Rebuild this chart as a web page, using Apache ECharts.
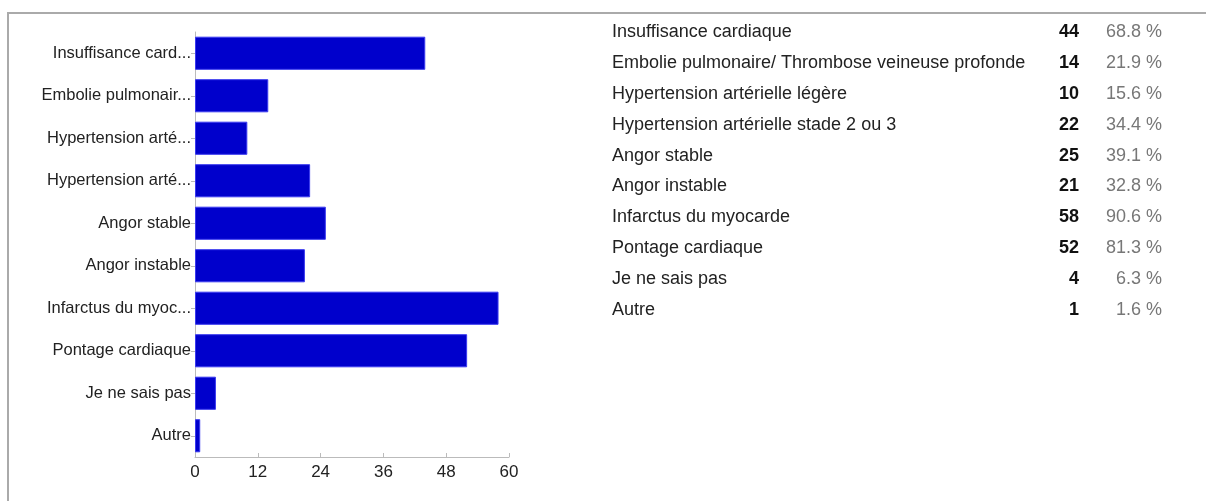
<!DOCTYPE html>
<html>
<head>
<meta charset="utf-8">
<script src="https://cdn.jsdelivr.net/npm/echarts@6/dist/echarts.min.js"></script>
<style>
  html, body { margin: 0; padding: 0; background: #fff; }
  #main { width: 1206px; height: 501px; position: relative; }
  .frame { position: absolute; left: 7px; top: 12px; right: 0; bottom: 0;
           border-top: 2px solid #aaa; border-left: 2px solid #aaa; pointer-events: none; }
</style>
</head>
<body>
<div id="main"></div>
<div class="frame"></div>
<script>
// réponses (ordre du questionnaire)
const categories = [
  'Insuffisance cardiaque',
  'Embolie pulmonaire/ Thrombose veineuse profonde',
  'Hypertension artérielle légère',
  'Hypertension artérielle stade 2 ou 3',
  'Angor stable',
  'Angor instable',
  'Infarctus du myocarde',
  'Pontage cardiaque',
  'Je ne sais pas',
  'Autre'
]
const counts = [44, 14, 10, 22, 25, 21, 58, 52, 4, 1]
const percents = ['68.8 %', '21.9 %', '15.6 %', '34.4 %', '39.1 %', '32.8 %', '90.6 %', '81.3 %', '6.3 %', '1.6 %']
const xTicks = [0, 12, 24, 36, 48, 60]

const font = '"Liberation Sans", Arial, sans-serif'

// tableau à droite
let graphics = []
categories.forEach((c, i) => {
  let y = 32 + i * 30.9
  graphics.push({
    type: 'text', x: 612, y: y,
    style: { text: c, fill: '#222', font: '18px ' + font, align: 'left', verticalAlign: 'middle' }
  })
  graphics.push({
    type: 'text', x: 1079, y: y,
    style: { text: String(counts[i]), fill: '#111', font: 'bold 18px ' + font,
             align: 'right', verticalAlign: 'middle' }
  })
  graphics.push({
    type: 'text', x: 1162, y: y,
    style: { text: percents[i], fill: '#777', font: '18px ' + font,
             align: 'right', verticalAlign: 'middle' }
  })
})

const option = {
  animation: false,
  grid: { left: 195, right: 697, top: 32, bottom: 44, containLabel: false },
  xAxis: {
    type: 'value',
    min: xTicks[0],
    max: xTicks[xTicks.length - 1],
    interval: 12,
    axisLine: { show: true, lineStyle: { color: '#bbb' } },
    axisTick: { show: true, inside: true, length: 4, lineStyle: { color: '#bbb' } },
    splitLine: { show: false },
    axisLabel: { color: '#222', fontSize: 17, fontFamily: font, margin: 7 }
  },
  yAxis: {
    type: 'category',
    inverse: true,
    data: categories,
    axisLine: { show: true, lineStyle: { color: '#bbb' } },
    axisTick: { show: true, alignWithLabel: true, length: 4, lineStyle: { color: '#bbb' } },
    axisLabel: {
      color: '#222', fontSize: 16.5, fontFamily: font, margin: 4,
      formatter: v => v.length > 17 ? v.slice(0, 17) + '...' : v
    }
  },
  series: [{
    type: 'bar',
    data: counts,
    barCategoryGap: '22%',
    itemStyle: { color: '#0000cc', borderColor: '#3a3af0', borderWidth: 1 },
    silent: true
  }],
  graphic: graphics
}

let myChart = echarts.init(document.getElementById('main'))
myChart.setOption(option, true)
</script>
</body>
</html>
